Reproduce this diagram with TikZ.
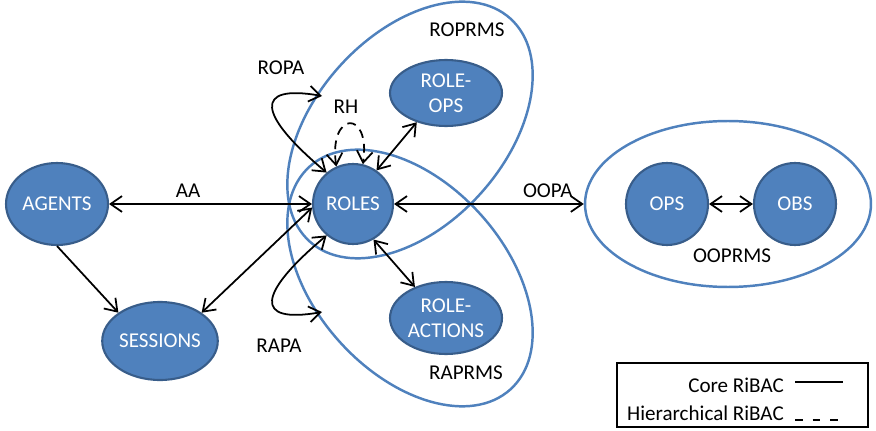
\documentclass[tikz,border=0pt]{standalone}
\usepackage{fontspec}
\setmainfont{Carlito}
\usepackage{tikz}
\usetikzlibrary{positioning}
\usetikzlibrary{shapes.geometric}
\usetikzlibrary{arrows.meta}
\definecolor{ribacblue}{HTML}{4F81BD}
\definecolor{ribacdark}{HTML}{385D8A}
\def\tipsize{length=6.5pt,width=9pt}

\begin{document}
\begin{tikzpicture}[x=0.02cm, y=0.02cm,
  font=\fontsize{12}{14.5}\selectfont,
  entity/.style={ellipse, fill=ribacblue, draw=ribacdark, line width=1.2pt,
    text=white, align=center, inner sep=0pt},
  group/.style={ellipse, draw=ribacblue, line width=1.4pt, inner sep=0pt},
  rel/.style={line width=1pt, {Straight Barb[\tipsize]}-{Straight Barb[\tipsize]}},
  onerel/.style={line width=1pt, -{Straight Barb[\tipsize]}},
  hierdash/.style={dash pattern=on 5pt off 3.5pt}]

\useasboundingbox (0,0) rectangle (876,430);

% permission sets
\node[group, minimum width=6cm, minimum height=3.8cm, rotate=48] (roprms) at (410,300) {};
\node[group, minimum width=6cm, minimum height=3.8cm, rotate=-48] (raprms) at (410,152) {};
\node[group, minimum width=5.72cm, minimum height=3.32cm] (ooprms) at (728,226) {};

\node (roprmslbl) at (467,400) {ROPRMS};
\node (raprmslbl) at (466,57) {RAPRMS};
\node (ooprmslbl) at (732,174) {OOPRMS};

% entities
\node[entity, minimum width=2.04cm, minimum height=1.64cm] (agents) at (57,226) {AGENTS};
\node[entity, minimum width=2.2cm, minimum height=1.56cm] (sessions) at (160,89) {SESSIONS};
\node[entity, minimum width=1.6cm, minimum height=1.6cm] (roles) at (353,226) {ROLES};
\node[entity, minimum width=2.24cm, minimum height=1.32cm] (roleops) at (446,337) {ROLE-\\OPS};
\node[entity, minimum width=2.24cm, minimum height=1.44cm] (roleact) at (446,112) {ROLE-\\ACTIONS};
\node[entity, minimum width=1.64cm, minimum height=1.64cm] (ops) at (667,226) {OPS};
\node[entity, minimum width=1.64cm, minimum height=1.64cm] (obs) at (795,226) {OBS};

\coordinate (ropaend) at (322,334);
\coordinate (rapaend) at (322,118);

\draw[rel] (agents.east) -- node[above, pos=0.39] (aa) {AA} (roles.west);
\draw[rel] (roles.east) -- node[above, pos=0.81] (oopa) {OOPA} (ooprms.west);
\draw[rel] (ops) -- (obs);
\draw[rel] (roles.55) -- (roleops.225);
\draw[rel] (roles.-60) -- (roleact.135);
\draw[rel] (sessions.north east) -- (roles.185);
\draw[onerel] (agents.south) -- (sessions.north west);

\draw[rel] (roles.130) .. controls +(140:90) and +(170:70) .. (ropaend);
\draw[rel] (roles.230) .. controls +(220:90) and +(190:70) .. (rapaend);
\draw[rel, hierdash] (roles.114) .. controls +(98:56) and +(82:56) .. (roles.76);

\node (ropa) at (281,362) {ROPA};
\node (rapa) at (279,84) {RAPA};
\node (rh) at (346,323) {RH};

% legend
\draw[line width=0.6pt] (617,3) rectangle (868,67);
\node[anchor=east] (core) at (790,45) {Core RiBAC};
\node[anchor=east] (hier) at (790,17) {Hierarchical RiBAC};
\draw[line width=1.4pt] (795,48) -- (843,48);
\draw[line width=1.4pt, dash pattern=on 4.5pt off 5.5pt] (795,10) -- (843,10);
\end{tikzpicture}
\end{document}
